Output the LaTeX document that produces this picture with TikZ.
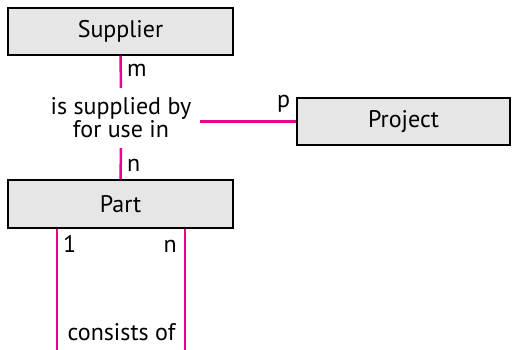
\documentclass[tikz,border=0pt]{standalone}
\usepackage{fontspec}
\setmainfont{PT Sans}
\begin{document}
\begin{tikzpicture}[x=1pt,y=-1pt,
  entity/.style={draw=black,line width=1.2pt,fill=boxgray,inner sep=0pt,font=\fontsize{24}{23}\selectfont},
  link/.style={draw=linkpink,line width=2.5pt},
  card/.style={inner sep=0pt,font=\fontsize{24}{23}\selectfont},
  txt/.style={inner sep=0pt,font=\fontsize{24}{23}\selectfont,align=center}]
\definecolor{boxgray}{HTML}{E6E6E6}
\definecolor{linkpink}{HTML}{EC008C}
\useasboundingbox (0,0) rectangle (512,350);
\node[entity,minimum width=225pt,minimum height=47pt] (sup) at (120.5,31.5) {Supplier};
\node[entity,minimum width=225pt,minimum height=48pt] (part) at (120.5,204) {Part};
\node[entity,minimum width=213pt,minimum height=47pt] (proj) at (403.5,121.5) {Project};
\node[txt,minimum width=158pt,minimum height=60pt] (rel) at (121,118) {is supplied by\\for use in};
\path[link] (sup.south) -- (rel.north);
\path[link] (rel.south) -- (part.north);
\path[link] (proj.west) -- (proj.west -| rel.east);
\coordinate (c1) at (57,352);
\coordinate (c2) at (185,352);
\path[link] (part.south -| c1) -- (c1);
\path[link] (part.south -| c2) -- (c2);
\node[txt,anchor=base] (cons) at (121.5,340) {consists of};
\node[card,anchor=base west] (m) at (127,77) {m};
\node[card,anchor=base west] (n1) at (127,172) {n};
\node[card,anchor=base west] (p) at (277,108) {p};
\node[card,anchor=base west] (one) at (63,252) {1};
\node[card,anchor=base east] (n2) at (177,252) {n};
\end{tikzpicture}
\end{document}
